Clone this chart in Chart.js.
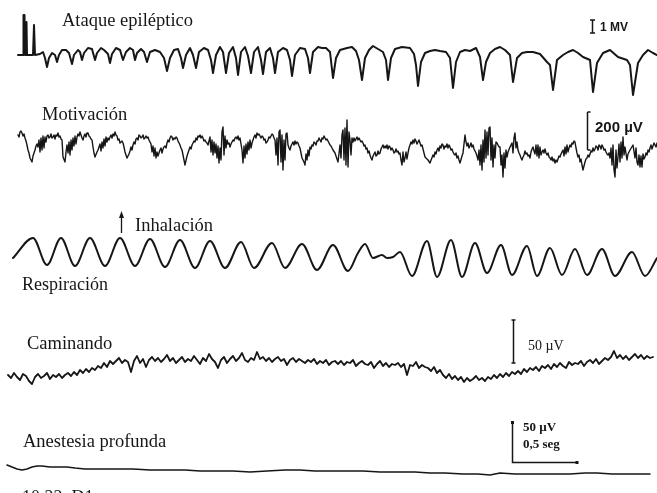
<!DOCTYPE html>
<html>
<head>
<meta charset="utf-8">
<script src="https://cdn.jsdelivr.net/npm/chart.js@4.4.1/dist/chart.umd.min.js"></script>
<style>
  html, body { margin: 0; padding: 0; background: #fff; }
  #page { position: relative; width: 657px; height: 493px; overflow: hidden; }
  #page canvas { position: absolute; left: 0; }
</style>
</head>
<body>
<div id="page">
  <canvas id="ataque" width="657" height="100" style="top:0px"></canvas>
  <canvas id="motivacion" width="657" height="100" style="top:100px"></canvas>
  <canvas id="respiracion" width="657" height="100" style="top:200px"></canvas>
  <canvas id="caminando" width="657" height="100" style="top:300px"></canvas>
  <canvas id="anestesia" width="657" height="93" style="top:400px"></canvas>
</div>
<script>
// recordings: [sample, amplitude] pairs, 130 samples per second
const SAMPLES_PER_SEC = 130;
const TRACE_SAMPLES = 657;

const ataque = [
  [18, 5], [23, 5], [23.5, 45], [24.5, 45], [25, 5], [26, 5], [26.5, 38], [27, 5], [33, 5], [34, 35], [34.5, 35], [35, 5], [40, 6],
  [43, 8], [45, 2], [47, -7], [49, 2], [52, 7], [55, 5], [57, -2], [59, 5], [62, 10], [66, 10], [69, 7], [72, -4],
  [74, 5], [78, 10], [80, 8], [82, 0], [84, 7], [88, 12], [92, 11], [95, 0], [97, 7], [101, 12], [104, 10], [108, 6],
  [110, -3], [112, 6], [116, 12], [120, 10], [123, 0], [126, 8], [130, 12], [133, 10], [135, 0], [137, 7], [141, 11], [144, 8],
  [147, -2], [150, 8], [155, 10], [160, 8], [164, 2], [167, -11], [170, 2], [174, 10], [178, 11], [181, 2], [183, -8], [186, 5],
  [190, 12], [193, 5], [196, -8], [199, 8], [204, 12], [208, 10], [211, 0], [213, -13], [216, 5], [220, 13], [223, 8], [226, -13],
  [229, 7], [233, 13], [236, 2], [238, -15], [241, 8], [245, 13], [248, 4], [251, -13], [254, 8], [258, 13], [261, 0], [263, -14],
  [266, 8], [270, 12], [273, 2], [275, -13], [278, 8], [283, 12], [287, 10], [290, 0], [292, -16], [295, 5], [300, 12], [305, 11],
  [308, 2], [310, -13], [313, 8], [318, 13], [322, 12], [326, 12], [330, 8], [333, -18], [336, 2], [340, 10], [347, 12], [352, 13],
  [356, 9], [359, 0], [362, -20], [365, 2], [369, 10], [373, 14], [378, 11], [383, 8], [386, 0], [388, -20], [391, 2], [395, 11],
  [402, 13], [410, 12], [414, 6], [416, -5], [418, -26], [421, -2], [425, 7], [430, 9], [435, 10], [440, 9], [446, 8], [450, 2],
  [453, -28], [456, -2], [460, 8], [465, 10], [470, 9], [476, 12], [480, 3], [483, -20], [486, -2], [490, 7], [495, 11], [500, 13],
  [505, 10], [510, 5], [513, -22], [517, 2], [522, 7], [527, 8], [533, 8], [540, 6], [547, -2], [550, -5], [553, -30], [557, 0],
  [563, 5], [568, 8], [573, 10], [578, 7], [583, 3], [590, 0], [593, -32], [597, -3], [603, 7], [610, 10], [618, 3], [627, 0],
  [630, -5], [633, -35], [638, -3], [643, 5], [648, 10], [653, 7], [657, 5]
];

const motivacion = [
  [18, 15], [19, 13], [20, 18], [21, 19], [22, 17], [23, 14], [24, 16], [25, 12], [26, 9], [27, 5], [28, 0], [29, -3],
  [30, -8], [31, -10], [32, -12], [33, -6], [34, -3], [35, 0], [36, 4], [37, 6], [38, 3], [39, 10], [40, -2], [41, 12],
  [42, 0], [43, 14], [44, 2], [45, 13], [46, 8], [47, 14], [48, 15], [49, 12], [50, 13], [51, 16], [52, 12], [53, 13],
  [54, 15], [55, 11], [56, 15], [57, 14], [58, 17], [59, 13], [60, 14], [61, 11], [62, 10], [63, -7], [65, -12], [66, -2],
  [67, 5], [68, -3], [69, 8], [70, -5], [71, 10], [72, 0], [73, 12], [74, 4], [75, 14], [76, 6], [77, 13], [78, 16],
  [79, 14], [80, 18], [81, 15], [82, 12], [83, 10], [84, 14], [85, 16], [86, 13], [87, 17], [88, 17], [89, 14], [90, 13],
  [91, 11], [92, 10], [93, 3], [94, -3], [95, -7], [97, -2], [98, 0], [100, 6], [101, -1], [102, 8], [103, 2], [104, 11],
  [105, 4], [106, 13], [107, 8], [108, 12], [109, 10], [110, 13], [111, 15], [112, 12], [113, 16], [114, 14], [115, 18], [116, 15],
  [117, 14], [118, 10], [119, 11], [120, 7], [121, 8], [122, 9], [123, 7], [124, 3], [125, -2], [127, -8], [129, -4], [130, -1],
  [131, 3], [132, 0], [133, 5], [134, 8], [135, 6], [136, 11], [137, 12], [138, 10], [139, 15], [140, 14], [141, 12], [142, 13],
  [143, 15], [144, 11], [145, 12], [146, 14], [147, 12], [148, 13], [149, 10], [150, 8], [151, 6], [152, -2], [153, 4], [154, -6],
  [155, 2], [156, -8], [157, -2], [158, -6], [160, 0], [161, 2], [162, -3], [163, 1], [164, 3], [165, 4], [166, 2], [167, 7],
  [168, 10], [169, 8], [170, 12], [171, 14], [172, 13], [173, 10], [174, 12], [175, 11], [176, 13], [177, 12], [178, 9], [179, 7],
  [180, 5], [181, 2], [182, 0], [184, -10], [185, -15], [187, -6], [188, -3], [189, 0], [190, 3], [191, 1], [192, 5], [193, 7],
  [194, 9], [195, 8], [196, 12], [197, 10], [198, 14], [199, 13], [200, 15], [201, 12], [202, 14], [203, 12], [204, 9], [205, 10],
  [206, 8], [207, 7], [208, 5], [209, 9], [210, 13], [211, -2], [212, 10], [213, -5], [214, 8], [215, -3], [216, 6], [217, -8],
  [218, 4], [219, -13], [220, 2], [221, -10], [222, 18], [223, 23], [224, -5], [225, 14], [226, 2], [227, 10], [228, 6], [229, 7],
  [230, 3], [231, 6], [232, 8], [233, 10], [234, 9], [235, 12], [236, 13], [237, 11], [238, 14], [239, 10], [240, 12], [241, 6],
  [242, 0], [243, -13], [244, 4], [245, -8], [246, 6], [247, -4], [248, 8], [249, 0], [250, 10], [251, 2], [252, 7], [253, 10],
  [254, 13], [255, 15], [256, 12], [257, 17], [258, 15], [259, 16], [260, 14], [261, 12], [262, 14], [263, 13], [264, 10], [265, 11],
  [266, 7], [267, 8], [268, 10], [269, 13], [270, 12], [271, 14], [272, 16], [273, 15], [274, 12], [275, 10], [276, -5], [277, 12],
  [278, -15], [279, 18], [280, 20], [281, -12], [282, 15], [283, -20], [284, 10], [285, -10], [286, 16], [287, 17], [288, 5], [289, 2],
  [290, 0], [291, 4], [292, 6], [293, 8], [294, 5], [295, 9], [296, 6], [297, 8], [298, 7], [299, 4], [300, 2], [301, -3],
  [302, -8], [304, -12], [305, -15], [306, -4], [307, -10], [308, 0], [309, -6], [310, 3], [311, 1], [312, 5], [313, 4], [314, 8],
  [315, 7], [316, 5], [317, 9], [318, 9], [319, 12], [320, 10], [321, 8], [322, 12], [323, 11], [324, 14], [325, 12], [326, 10],
  [327, 11], [328, 9], [329, 7], [330, 5], [331, 4], [332, 2], [333, 0], [335, -3], [338, -12], [340, 5], [341, -8], [342, 15],
  [343, 20], [344, -10], [345, 22], [346, -15], [347, 30], [348, -17], [349, 18], [350, 10], [351, -5], [352, 12], [353, 8], [354, 12],
  [355, 9], [356, 11], [357, 13], [358, 10], [359, 12], [360, 10], [361, 8], [362, 9], [363, 7], [364, 4], [365, 5], [366, 1],
  [367, 2], [368, -3], [369, -1], [370, -5], [371, -8], [372, -10], [373, -6], [374, -4], [375, -2], [376, -6], [377, -5], [378, -1],
  [379, -4], [380, -3], [381, 1], [382, 3], [383, 5], [384, 2], [385, 4], [386, 2], [387, 5], [388, 1], [389, 4], [390, 3],
  [391, 0], [392, 2], [393, 0], [394, -3], [395, -2], [396, 1], [397, -2], [398, -1], [399, -4], [400, -3], [401, -10], [402, -15],
  [403, -2], [404, -12], [405, -8], [406, -2], [407, -9], [408, -3], [409, 2], [410, 5], [411, 8], [412, 6], [413, 10], [414, 7],
  [415, 11], [416, 9], [417, 6], [418, 8], [419, 10], [420, 7], [421, 4], [422, 5], [423, 1], [424, -3], [425, -7], [428, -10],
  [430, -13], [433, -5], [434, -7], [435, -2], [436, -4], [437, 0], [438, 2], [439, -1], [440, 4], [441, 2], [442, 6], [443, 5],
  [444, 1], [445, 4], [446, 3], [447, 6], [448, 2], [449, 5], [450, 3], [451, 0], [452, 1], [453, -2], [454, -4], [455, -5],
  [456, -3], [457, -8], [458, -6], [459, -10], [460, -13], [462, -6], [463, -3], [465, 15], [466, 8], [467, 4], [468, 7], [469, 2],
  [470, 4], [471, 7], [472, 3], [473, 5], [474, 1], [475, -1], [476, -3], [477, -6], [478, -10], [479, 0], [480, -15], [481, 5],
  [482, -20], [483, 10], [484, -12], [485, 20], [486, -8], [487, 18], [488, -5], [489, 22], [490, 23], [491, -10], [492, 12], [493, -17],
  [494, 5], [495, -8], [496, 8], [497, 7], [499, 3], [500, 3], [501, -15], [502, -5], [503, -27], [504, -3], [505, -18], [506, 0],
  [507, -7], [508, -2], [510, 3], [512, 7], [513, -3], [514, 12], [515, 17], [516, 2], [517, 8], [518, 0], [519, -3], [520, -5],
  [521, -8], [522, -10], [523, -7], [524, -5], [525, -1], [526, -4], [527, -3], [528, -6], [529, -5], [530, -8], [531, -2], [532, 1],
  [533, 3], [534, -1], [535, -4], [536, 5], [537, -6], [538, 5], [539, -8], [540, 3], [541, -5], [542, -2], [543, 0], [544, -3],
  [545, 1], [546, -3], [547, -5], [548, -3], [549, -7], [550, -8], [551, -10], [552, -7], [553, -11], [554, -9], [555, -13], [556, -10],
  [557, -12], [558, -9], [559, -6], [560, -7], [561, -4], [562, -2], [563, 0], [564, -6], [565, 3], [566, -4], [567, 5], [568, -2],
  [569, 2], [570, 5], [571, 3], [572, 7], [573, 6], [574, 9], [575, 8], [576, 2], [577, -3], [578, -7], [579, -5], [580, -12],
  [581, -9], [582, -15], [583, -20], [585, -12], [586, -9], [587, -8], [588, -5], [589, -7], [590, -4], [591, -1], [592, -2], [593, 2],
  [594, -1], [595, 1], [596, 4], [597, 3], [598, 0], [599, 5], [600, 4], [601, 1], [602, 5], [603, 3], [604, 0], [605, 1],
  [606, -2], [607, -4], [608, -5], [609, -3], [610, -8], [611, 2], [612, -15], [613, 5], [614, -20], [615, -27], [616, 0], [617, -18],
  [618, -7], [619, 6], [620, -12], [621, 8], [622, -8], [623, 13], [624, -5], [625, 3], [627, -10], [628, -4], [630, 0], [633, 5],
  [635, -8], [636, 2], [637, -12], [638, -15], [639, -5], [640, -17], [641, -6], [642, -17], [643, -4], [644, -9], [645, -7], [646, -3],
  [647, -5], [648, 0], [649, -2], [650, 2], [651, 5], [652, 1], [653, 4], [654, 7], [655, 5], [656, 3], [657, 7]
];

// breathing: turning points of each cycle
const respiracion = [
  [13, 0], [33, 20], [47, -7], [61, 20], [75, -8], [90, 20], [105, -8], [120, 20], [135, -8], [150, 19],
  [165, -9], [180, 18], [195, -10], [210, 17], [225, -10], [241, 16], [254, -10], [272, 15], [285, -10], [302, 14],
  [317, -12], [333, 13], [348, -13], [358, 5], [365, 14], [373, 0], [382, 3], [387, 0], [393, 1], [400, 6],
  [412, -18], [427, 17], [437, -19], [451, 18], [462, -19], [475, 15], [487, -15], [501, 13], [512, -17], [527, 12],
  [537, -18], [550, 10], [562, -17], [575, 9], [587, -17], [602, 9], [615, -18], [632, 6], [645, -18], [657, 0]
];

// walking: evenly sampled every 3 samples from sample 8
const caminandoStart = 8;
const caminandoStep = 3;
const caminando = [
  -5, -8, -3, -7, -10, -4, -6, -11, -14, -7,  -4, -8, -6, -3, -9, -5, -7, -4, -8, -5,
  -3, -6, -2, -5, 0, -3, 1, -2, 2, 0,  4, 2, 7, 3, 9, 6, 9, 12, 7, 10,
  8, -2, 9, 14, 7, 11, 3, 10, 13, 9,  12, 8, 11, 15, 9, 12, 7, 10, 13, 8,
  11, 9, 14, 10, 6, 12, 9, 16, 11, 8,  2, 10, 13, 7, 11, 14, 9, 12, 17, 10,
  8, 12, 10, 18, 11, 13, 9, 12, 8, 11,  13, 9, 11, 5, 10, 12, 8, 11, 9, 7,
  10, 8, 11, 6, 9, 7, 10, 5, 8, 9,  6, 9, 5, 8, 7, 10, 4, 7, 9, 6,
  5, 8, 2, 6, 9, 4, 7, 3, 6, 5,  7, 3, 6, -5, 5, 4, 8, 2, 5, 3,
  2, -1, 3, -3, 0, -5, -8, -4, -9, -6,  -10, -7, -12, -8, -11, -9, -6, -10, -8, -11,
  -7, -9, -5, -8, -4, -7, -3, -6, -2, -4,  -1, -4, 1, -2, 2, 0, 3, -1, 4, 2,
  5, 1, 6, 3, 7, 4, 2, 8, 5, 7,  6, 9, 4, 8, 10, 7, 11, 6, 9, 12,
  10, 13, 19, 12, 15, 11, 14, 10, 13, 16,  12, 15, 11, 14, 12, 13
];

const anestesia = [
  [7, 5], [12, 3], [17, 1], [22, 0], [27, 1], [32, 3], [37, 4], [42, 4], [50, 3], [60, 3], [67, 3], [75, 2],
  [85, 1], [100, 1], [115, 1], [133, 1], [150, 0], [167, 0], [185, 0], [200, -1], [215, -1], [233, -1], [250, -2], [267, -1],
  [285, 0], [300, 0], [315, -1], [330, -1], [345, -1], [363, -1], [380, -2], [397, -2], [415, -2], [430, -3], [445, -3], [463, -4],
  [478, -4], [490, -5], [500, -3], [515, -4], [530, -4], [550, -4], [570, -4], [585, -3], [597, -3], [612, -4], [630, -4], [650, -4]
];

// calibration bars, in trace amplitude units
const ataqueOneMv = 13;
const motivacion200uV = 38;
const caminando50uV = 43;
const anestesia50uV = 40;

const INK = "#161616";
const SERIF = '"Liberation Serif", "Times New Roman", serif';
const SANS = '"Liberation Sans", Arial, sans-serif';

function pairsToPoints(pairs) {
  return pairs.map(([t, v]) => ({ x: t, y: v }));
}

function label(ctx, text, x, y, font) {
  ctx.save();
  ctx.fillStyle = INK;
  ctx.font = font;
  ctx.textBaseline = "alphabetic";
  ctx.fillText(text, x, y);
  ctx.restore();
}

// vertical calibration bar from v0 to v1 at sample t
function calBar(chart, t, v0, v1, capL, capR) {
  const ctx = chart.ctx;
  const px = Math.round(chart.scales.x.getPixelForValue(t)) + 0.5;
  const top = chart.scales.y.getPixelForValue(v1);
  const bottom = chart.scales.y.getPixelForValue(v0);
  ctx.save();
  ctx.strokeStyle = INK;
  ctx.lineWidth = 1.5;
  ctx.beginPath();
  ctx.moveTo(px, top);
  ctx.lineTo(px, bottom);
  ctx.moveTo(px - capL, top);
  ctx.lineTo(px + capR, top);
  ctx.moveTo(px - capL, bottom);
  ctx.lineTo(px + capR, bottom);
  ctx.stroke();
  ctx.restore();
}

function traceChart(id, points, yMin, yMax, width, smooth, notes) {
  return new Chart(document.getElementById(id), {
    type: "line",
    data: {
      datasets: [{
        data: points,
        borderColor: INK,
        borderWidth: width,
        pointRadius: 0,
        fill: false,
        tension: smooth ? 0.4 : 0,
        cubicInterpolationMode: smooth ? "monotone" : "default",
        borderJoinStyle: "round",
        borderCapStyle: "round",
      }],
    },
    options: {
      responsive: false,
      animation: false,
      devicePixelRatio: 1,
      events: [],
      layout: { padding: 0, autoPadding: false },
      plugins: { legend: { display: false }, tooltip: { enabled: false } },
      scales: {
        x: { type: "linear", display: false, min: 0, max: TRACE_SAMPLES },
        y: { type: "linear", display: false, min: yMin, max: yMax },
      },
    },
    plugins: [{ id: "notes", afterDraw: notes }],
  });
}

traceChart("ataque", pairsToPoints(ataque), -40, 60, 2, false, (chart) => {
  label(chart.ctx, "Ataque epiléptico", 62, 26, `18.5px ${SERIF}`);
  calBar(chart, 592, 27, 27 + ataqueOneMv, 2.5, 2.5);
  label(chart.ctx, "1 MV", 600, 31, `bold 12px ${SANS}`);
});

traceChart("motivacion", pairsToPoints(motivacion), -50, 50, 1.4, false, (chart) => {
  label(chart.ctx, "Motivación", 42, 20, `18.5px ${SERIF}`);
  calBar(chart, 587, 0, motivacion200uV, 0, 3);
  label(chart.ctx, "200 µV", 595, 32, `bold 15px ${SANS}`);
});

traceChart("respiracion", pairsToPoints(respiracion), -42, 58, 2, true, (chart) => {
  const ctx = chart.ctx;
  // arrow over the inhalation peak
  const ax = Math.round(chart.scales.x.getPixelForValue(121)) + 0.5;
  ctx.save();
  ctx.strokeStyle = INK;
  ctx.fillStyle = INK;
  ctx.lineWidth = 1.3;
  ctx.beginPath();
  ctx.moveTo(ax, 33);
  ctx.lineTo(ax, 15);
  ctx.stroke();
  ctx.beginPath();
  ctx.moveTo(ax, 11);
  ctx.lineTo(ax - 2.5, 18);
  ctx.lineTo(ax + 2.5, 18);
  ctx.closePath();
  ctx.fill();
  ctx.restore();
  label(ctx, "Inhalación", 135, 31, `18.5px ${SERIF}`);
  label(ctx, "Respiración", 22, 90, `18px ${SERIF}`);
});

traceChart("caminando",
  caminando.map((v, i) => ({ x: caminandoStart + i * caminandoStep, y: v })),
  -30, 70, 1.8, false, (chart) => {
    label(chart.ctx, "Caminando", 27, 49, `18.5px ${SERIF}`);
    calBar(chart, 513, 7, 7 + caminando50uV, 2, 2);
    label(chart.ctx, "50 µV", 528, 50, `14px ${SERIF}`);
  });

traceChart("anestesia", pairsToPoints(anestesia), -23, 70, 1.5, false, (chart) => {
  const ctx = chart.ctx;
  label(ctx, "Anestesia profunda", 23, 47, `18.5px ${SERIF}`);
  const { x, y } = chart.scales;
  const x0 = Math.round(x.getPixelForValue(512)) + 0.5;
  const x1 = x.getPixelForValue(512 + 0.5 * SAMPLES_PER_SEC);
  const yTop = y.getPixelForValue(8 + anestesia50uV);
  const yBase = Math.round(y.getPixelForValue(8)) + 0.5;
  ctx.save();
  ctx.strokeStyle = INK;
  ctx.lineWidth = 1.5;
  ctx.beginPath();
  ctx.moveTo(x0, yTop);
  ctx.lineTo(x0, yBase);
  ctx.lineTo(x1, yBase);
  ctx.stroke();
  ctx.fillStyle = INK;
  ctx.fillRect(x0 - 1.5, yTop - 1, 3, 3);
  ctx.fillRect(x1 - 1.5, yBase - 1.5, 3, 3);
  ctx.restore();
  label(ctx, "50 µV", 523, 31, `bold 13px ${SERIF}`);
  label(ctx, "0,5 seg", 523, 48, `bold 13px ${SERIF}`);
  label(ctx, "10.22  D1", 22, 103, `18px ${SERIF}`);
});
</script>
</body>
</html>
